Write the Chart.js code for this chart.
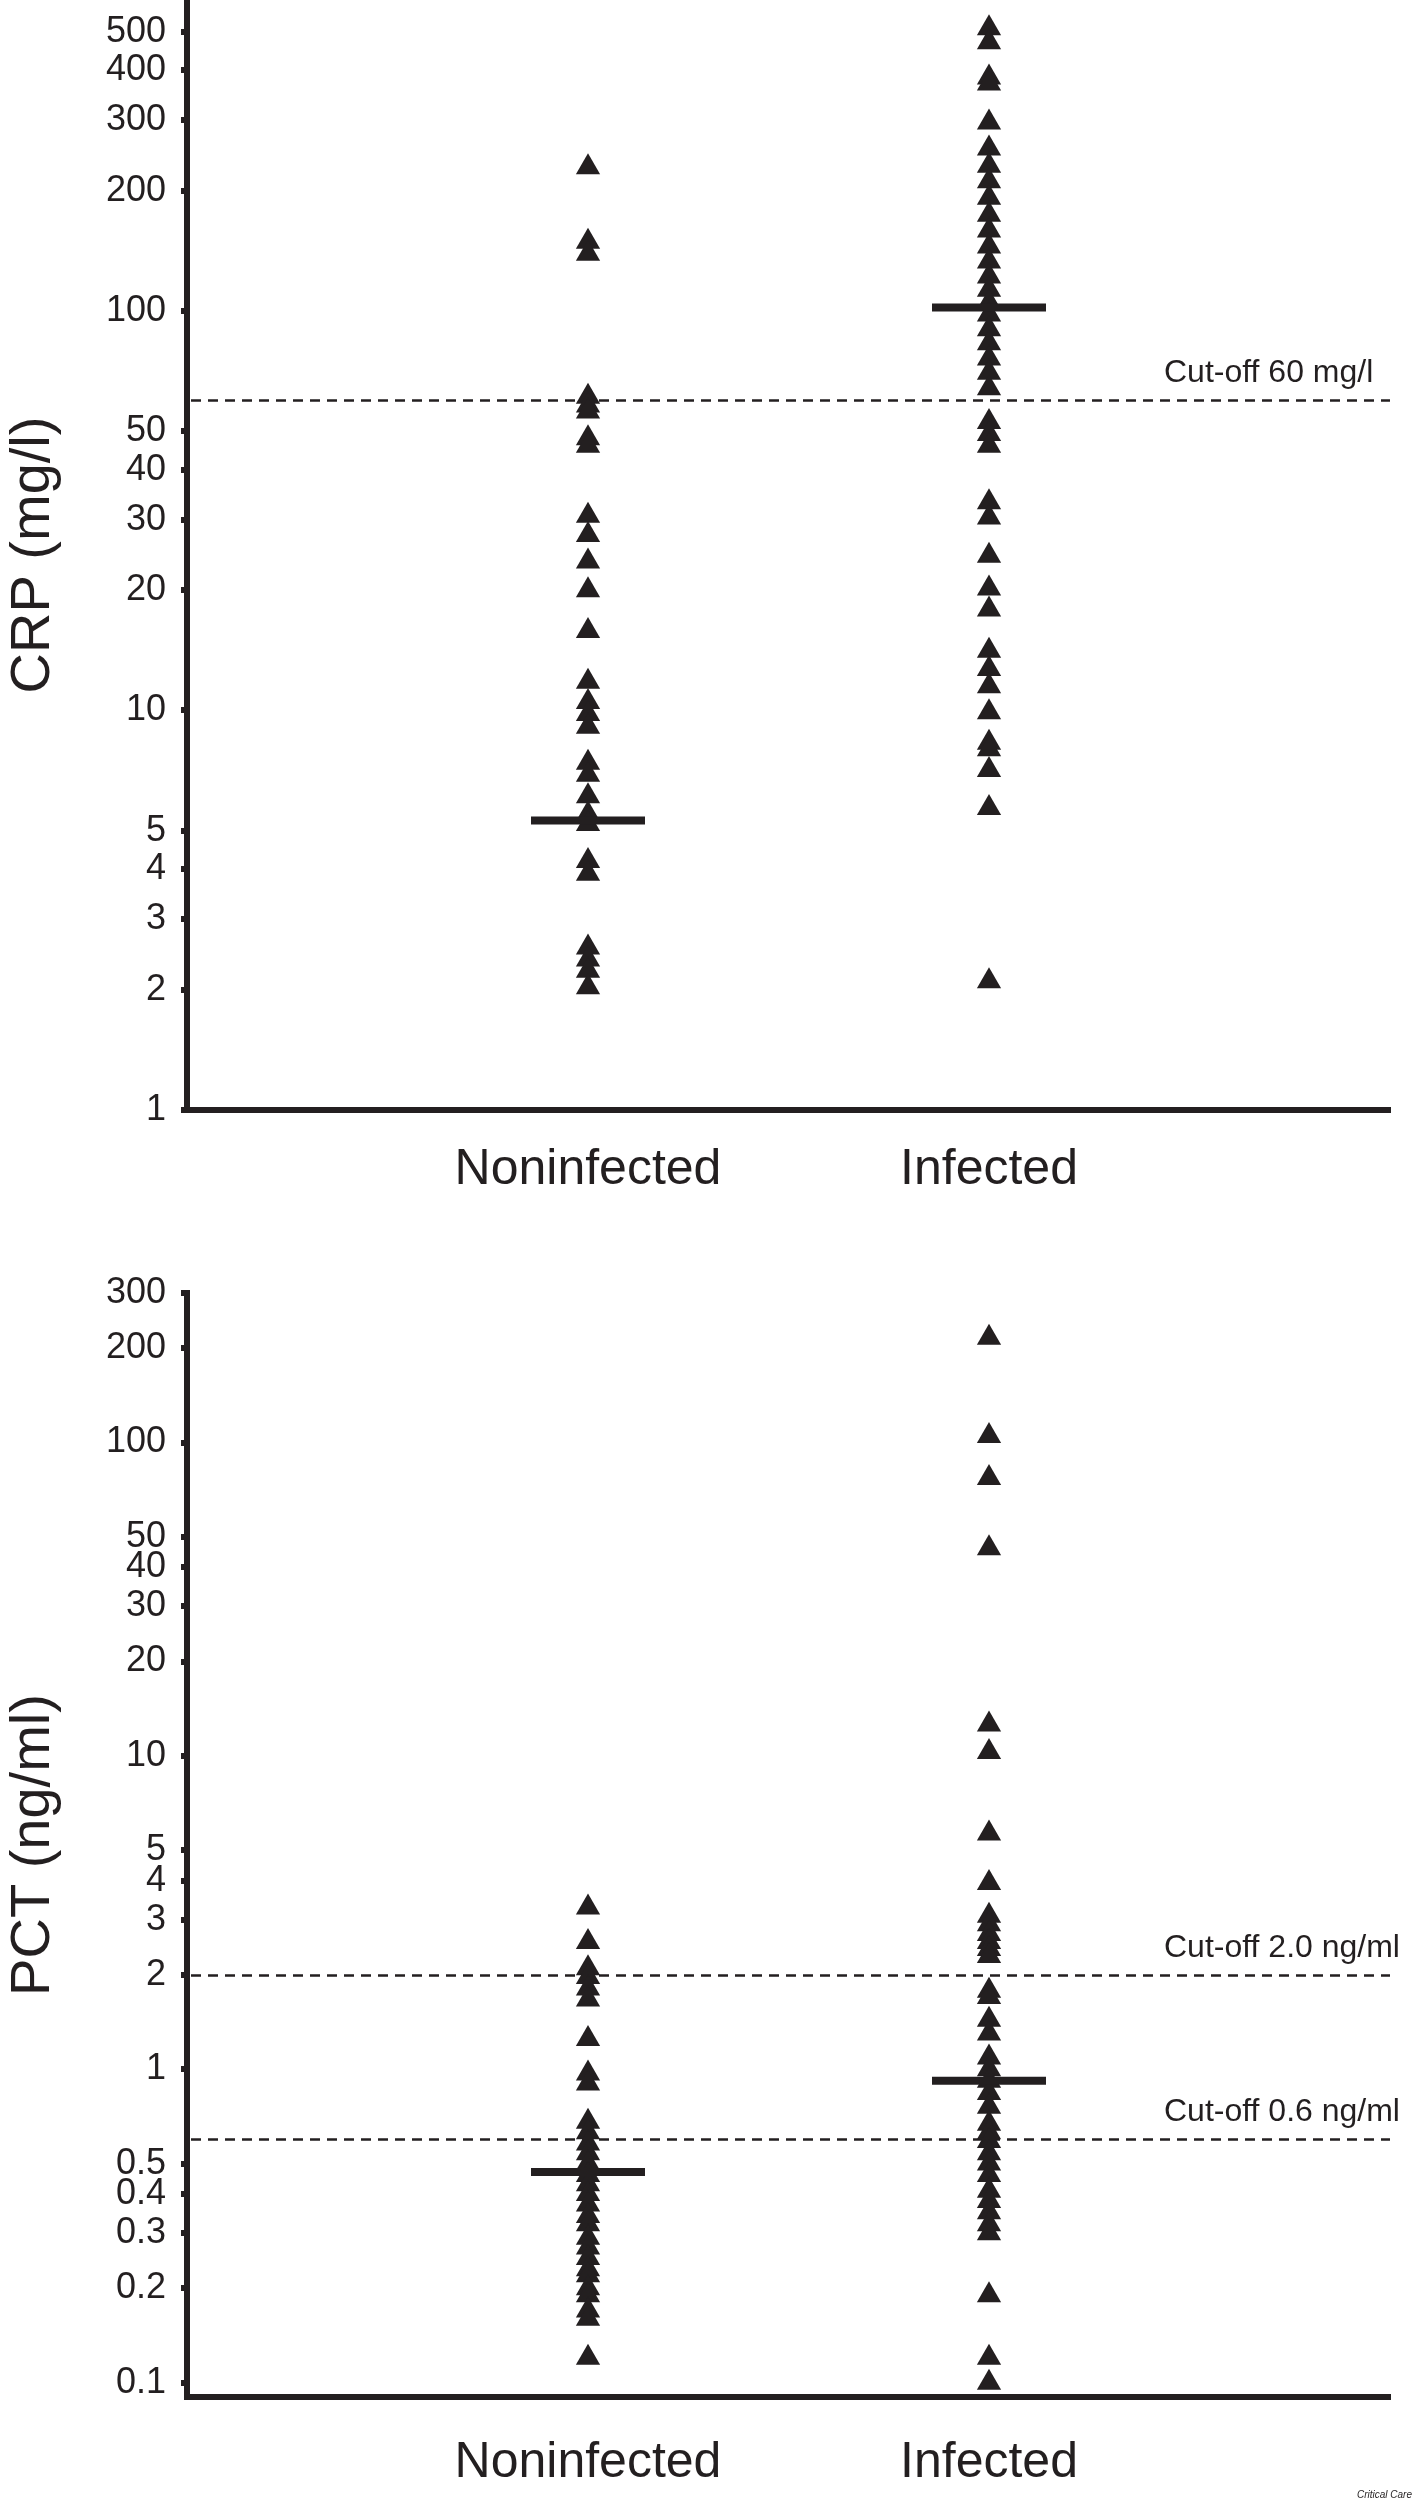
<!DOCTYPE html>
<html lang="en">
<head>
<meta charset="utf-8">
<title>CRP e PCT</title>
<script src="https://cdn.jsdelivr.net/npm/chart.js@4.4.1/dist/chart.umd.min.js"></script>
<style>
  html, body { margin: 0; padding: 0; background: #fff; }
  body { width: 1417px; height: 2504px; position: relative; overflow: hidden; }
  canvas { display: block; }
  #rodape { position: absolute; left: 1357px; top: 2489px; font: italic 10px "Liberation Sans", Arial, sans-serif; color: #231f20; }
</style>
</head>
<body>
<canvas id="graficocrp" width="1417" height="1250"></canvas>
<canvas id="graficopct" width="1417" height="1254"></canvas>
<div id="rodape">Critical Care</div>
<script>
var categorias = ['Noninfected', 'Infected'];

// CRP (mg/l)
var crpNaoInfectados = [229, 149, 139, 61, 58, 56, 48, 46, 30.7, 27.5, 23.6, 20, 15.8, 11.8, 10.5, 9.8, 9.1,
  7.4, 6.9, 6.1, 5.5, 5.2, 4.2, 3.9, 2.55, 2.38, 2.23, 2.03];
var crpInfectados = [510, 470, 384, 371, 296, 255, 231, 211, 192, 174, 159, 145, 133, 122, 113, 105, 98, 90,
  83, 76, 70, 64, 52.7, 49.2, 46, 33.2, 30.4, 24.4, 20.2, 17.9, 14.1, 12.7, 11.5, 9.9, 8.3, 8.0, 7.1, 5.7, 2.1];
var crpMedianas = [5.3, 102];
var crpTicks = [1, 2, 3, 4, 5, 10, 20, 30, 40, 50, 100, 200, 300, 400, 500];
var crpCortes = [60];
var crpTextosCorte = ['Cut-off 60 mg/l'];

// PCT (ng/ml)
var pctNaoInfectados = [3.28, 2.55, 2.10, 1.97, 1.81, 1.67, 1.25, 0.97, 0.90, 0.68, 0.63, 0.58, 0.54, 0.50,
  0.46, 0.43, 0.40, 0.37, 0.34, 0.32, 0.29, 0.27, 0.25, 0.23, 0.22, 0.20, 0.19, 0.17, 0.16, 0.12];
var pctInfectados = [216, 105, 77, 46, 12.6, 10.3, 5.65, 3.93, 3.09, 2.9, 2.7, 2.55, 2.42, 2.3, 1.78, 1.70,
  1.44, 1.30, 1.09, 1.0, 0.92, 0.84, 0.76, 0.67, 0.63, 0.59, 0.54, 0.50, 0.46, 0.41, 0.38, 0.35, 0.32, 0.30,
  0.19, 0.12, 0.1];
var pctMedianas = [0.47, 0.92];
var pctTicks = [0.1, 0.2, 0.3, 0.4, 0.5, 1, 2, 3, 4, 5, 10, 20, 30, 40, 50, 100, 200, 300];
var pctCortes = [2.0, 0.6];
var pctTextosCorte = ['Cut-off 2.0 ng/ml', 'Cut-off 0.6 ng/ml'];

var cor = '#231f20';
var fonte = '"Liberation Sans", Arial, Helvetica, sans-serif';
Chart.defaults.font.family = fonte;
Chart.defaults.color = cor;

// linhas tracejadas de corte com o texto acima
var linhasCorte = {
  id: 'linhasCorte',
  beforeDatasetsDraw: function(chart, args, opts) {
    var ctx = chart.ctx;
    var area = chart.chartArea;
    var escalaY = chart.scales.y;
    ctx.save();
    ctx.strokeStyle = cor;
    ctx.fillStyle = cor;
    ctx.lineWidth = 2.5;
    ctx.setLineDash([10, 7]);
    ctx.font = '32px ' + fonte;
    ctx.textAlign = 'left';
    ctx.textBaseline = 'alphabetic';
    opts.valores.forEach(function(v, i) {
      var py = Math.round(escalaY.getPixelForValue(v)) + 0.5;
      ctx.beginPath();
      ctx.moveTo(area.left + 4, py);
      ctx.lineTo(area.right, py);
      ctx.stroke();
      ctx.fillText(opts.textos[i], area.right - 226, py - 19);
    });
    ctx.restore();
  }
};

function pontos(valores, categoria) {
  return valores.map(function(v) { return {x: categoria, y: v}; });
}

function grafico(canvasId, cfg) {
  return new Chart(document.getElementById(canvasId), {
    type: 'scatter',
    data: {
      datasets: [{
        label: 'Median',
        data: cfg.medianas.map(function(v, i) { return {x: i + 1, y: v}; }),
        pointStyle: 'line',
        pointRadius: 57,
        pointHoverRadius: 57,
        pointBorderColor: cor,
        pointBorderWidth: 8,
        order: 0
      }, {
        label: categorias[0],
        data: pontos(cfg.naoInfectados, 1),
        pointStyle: 'triangle',
        pointRadius: 14,
        pointBackgroundColor: cor,
        pointBorderWidth: 0,
        order: 1
      }, {
        label: categorias[1],
        data: pontos(cfg.infectados, 2),
        pointStyle: 'triangle',
        pointRadius: 14,
        pointBackgroundColor: cor,
        pointBorderWidth: 0,
        order: 1
      }]
    },
    options: {
      responsive: false,
      animation: false,
      clip: false,
      layout: { autoPadding: false, padding: { top: cfg.topo, right: 27, left: 0, bottom: 0 } },
      plugins: {
        legend: { display: false },
        tooltip: { enabled: false },
        linhasCorte: { valores: cfg.cortes, textos: cfg.textosCorte }
      },
      scales: {
        x: {
          type: 'linear',
          min: 0,
          max: 3,
          afterBuildTicks: function(axis) { axis.ticks = [{value: 1}, {value: 2}]; },
          afterFit: function(axis) {
            axis.height = cfg.alturaX;
            axis.paddingLeft = 0;
            axis.paddingRight = 0;
          },
          ticks: {
            autoSkip: false,
            maxRotation: 0,
            padding: cfg.paddingX,
            color: cor,
            font: { size: 50 },
            callback: function(v) { return categorias[v - 1]; }
          },
          grid: { drawOnChartArea: false, drawTicks: false },
          border: { display: true, width: 6, color: cor }
        },
        y: {
          type: 'logarithmic',
          min: cfg.min,
          max: cfg.max,
          afterBuildTicks: function(axis) {
            axis.ticks = cfg.ticks.map(function(v) { return {value: v}; });
          },
          afterFit: function(axis) {
            axis.width = 187;
            axis.paddingTop = 0;
            axis.paddingBottom = 0;
          },
          ticks: {
            autoSkip: false,
            padding: 15,
            color: cor,
            font: { size: 36 },
            callback: function(v) { return String(v); }
          },
          grid: { drawOnChartArea: false, drawTicks: true, tickLength: 6, lineWidth: 6, color: cor },
          border: { display: true, width: 6, color: cor },
          title: { display: true, text: cfg.titulo, color: cor, font: { size: 56 }, padding: 0 }
        }
      }
    },
    plugins: [linhasCorte]
  });
}

var graficoCrp = grafico('graficocrp', {
  naoInfectados: crpNaoInfectados,
  infectados: crpInfectados,
  medianas: crpMedianas,
  ticks: crpTicks,
  cortes: crpCortes,
  textosCorte: crpTextosCorte,
  titulo: 'CRP (mg/l)',
  min: 1,
  max: 600,
  topo: 0,
  alturaX: 140,
  paddingX: 30
});

var graficoPct = grafico('graficopct', {
  naoInfectados: pctNaoInfectados,
  infectados: pctInfectados,
  medianas: pctMedianas,
  ticks: pctTicks,
  cortes: pctCortes,
  textosCorte: pctTextosCorte,
  titulo: 'PCT (ng/ml)',
  min: 0.09,
  max: 300,
  topo: 43,
  alturaX: 107,
  paddingX: 36
});
</script>
</body>
</html>
